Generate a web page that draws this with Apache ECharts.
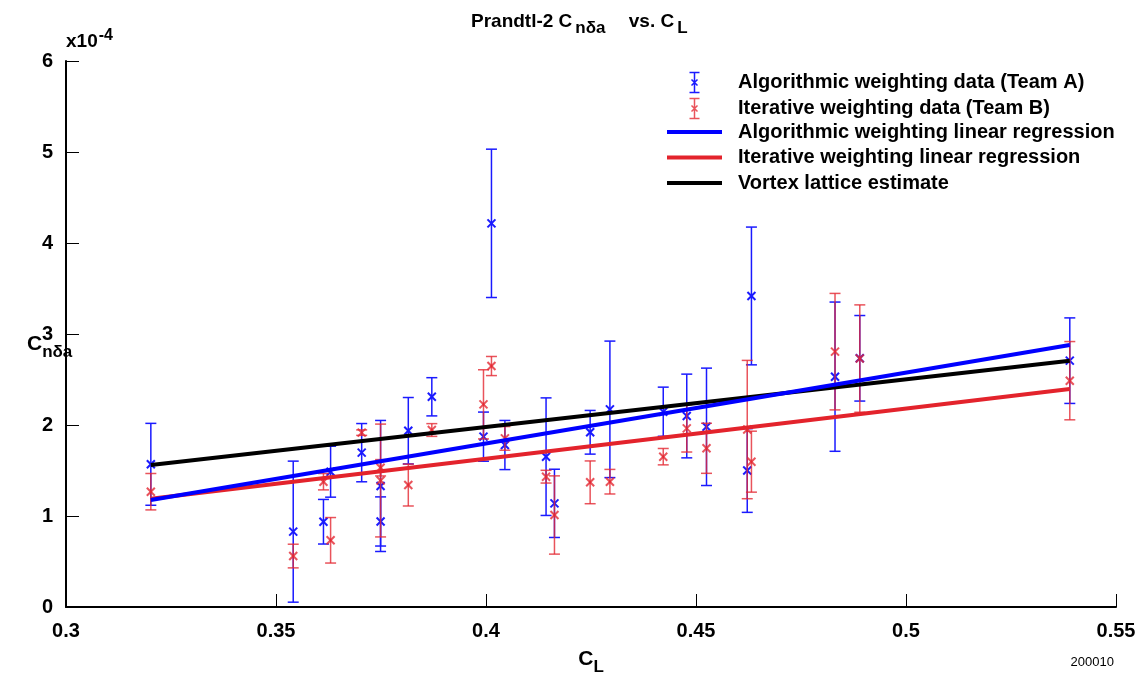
<!DOCTYPE html>
<html>
<head>
<meta charset="utf-8">
<script src="https://cdn.jsdelivr.net/npm/echarts@6/dist/echarts.min.js"></script>
<style>
  html, body { margin: 0; padding: 0; background: #fff; }
  #chart { width: 1146px; height: 674px; }
</style>
</head>
<body>
<div id="chart"></div>
<script>
// ---- Data (C_n_delta_a values in units of 1e-4) ----
const xTickLabels = ['0.3', '0.35', '0.4', '0.45', '0.5', '0.55'];
const yTickLabels = ['0', '1', '2', '3', '4', '5', '6'];

// Team A: algorithmic weighting data
const teamA_CL  = [0.3202, 0.3541, 0.3613, 0.3630, 0.3704, 0.3749, 0.3749, 0.3815, 0.3871, 0.3994, 0.4013, 0.4045,
                   0.4143, 0.4163, 0.4248, 0.4295, 0.4422, 0.4478, 0.4525, 0.4622, 0.4632, 0.4831, 0.4890, 0.5390];
const teamA_Cn  = [1.568, 0.828, 0.937, 1.487, 1.696, 1.33, 0.94, 1.937, 2.31, 1.872, 4.216, 1.78,
                   1.652, 1.139, 1.92, 2.172, 2.146, 2.099, 1.98, 1.50, 3.418, 2.531, 2.733, 2.707];
const teamA_err = [0.45, 0.775, 0.245, 0.28, 0.32, 0.72, 0.27, 0.365, 0.21, 0.27, 0.815, 0.27,
                   0.646, 0.375, 0.24, 0.75, 0.27, 0.46, 0.645, 0.46, 0.757, 0.82, 0.47, 0.47];

// Team B: iterative weighting data
const teamB_CL  = [0.3202, 0.3541, 0.3613, 0.3630, 0.3704, 0.3749, 0.3749, 0.3815, 0.3871, 0.3994, 0.4013, 0.4045,
                   0.4143, 0.4163, 0.4248, 0.4295, 0.4422, 0.4478, 0.4525, 0.4622, 0.4632, 0.4831, 0.4890, 0.5390];
const teamB_Cn  = [1.267, 0.56, 1.377, 0.733, 1.916, 1.39, 1.53, 1.34, 1.945, 2.227, 2.648, 1.853,
                   1.432, 1.011, 1.37, 1.377, 1.652, 1.963, 1.744, 1.95, 1.597, 2.806, 2.73, 2.487];
const teamB_err = [0.20, 0.13, 0.09, 0.25, 0.03, 0.62, 0.09, 0.23, 0.07, 0.38, 0.105, 0.13,
                   0.07, 0.43, 0.235, 0.135, 0.09, 0.26, 0.275, 0.76, 0.335, 0.64, 0.59, 0.43];

// Lines (endpoints)
const lineCL      = [0.3202, 0.539];
const algRegCn    = [1.176, 2.879];
const iterRegCn   = [1.19, 2.396];
const vortexCn    = [1.56, 2.707];

const names = [
  'Algorithmic weighting data (Team A)',
  'Iterative weighting data (Team B)',
  'Algorithmic weighting linear regression',
  'Iterative weighting linear regression',
  'Vortex lattice estimate'
];

const BLUE = '#0000ff';
const BLUE_BAR = '#1a1aff';
const RED = '#e3232c';
const RED_BAR = 'rgba(228,40,50,0.8)';
const FONT = '"Liberation Sans", Arial, Helvetica, sans-serif';

function rows(xs, ys, es) { return xs.map((x, i) => [x, ys[i], es[i]]); }
function pts(xs, ys) { return xs.map((x, i) => [x, ys[i]]); }

function errRenderer(color) {
  return function (params, api) {
    const x = api.value(0), y = api.value(1), e = api.value(2);
    const top = api.coord([x, y + e]);
    const bot = api.coord([x, y - e]);
    const c = api.coord([x, y]);
    const hw = 5.5, m = 4;
    const st = { stroke: color, lineWidth: 1.5, fill: null };
    const sx = { stroke: color, lineWidth: 2, fill: null };
    return {
      type: 'group',
      children: [
        { type: 'line', shape: { x1: top[0], y1: top[1], x2: bot[0], y2: bot[1] }, style: st },
        { type: 'line', shape: { x1: top[0] - hw, y1: top[1], x2: top[0] + hw, y2: top[1] }, style: st },
        { type: 'line', shape: { x1: bot[0] - hw, y1: bot[1], x2: bot[0] + hw, y2: bot[1] }, style: st },
        { type: 'line', shape: { x1: c[0] - m, y1: c[1] - m, x2: c[0] + m, y2: c[1] + m }, style: sx },
        { type: 'line', shape: { x1: c[0] - m, y1: c[1] + m, x2: c[0] + m, y2: c[1] - m }, style: sx }
      ]
    };
  };
}

const errIcon = 'path://M0,0H10M5,0V20M0,20H10M2,7L8,13M8,7L2,13';
const lineIcon = 'path://M0,0H55V4H0Z';

const legendText = {
  fontSize: 20, fontWeight: 'bold', color: '#000', fontFamily: FONT, lineHeight: 20,
  rich: { g: { width: 11, lineHeight: 20 } }
};

const chart = echarts.init(document.getElementById('chart'), null, { renderer: 'canvas' });
chart.setOption({
  animation: false,
  backgroundColor: '#ffffff',
  textStyle: { fontFamily: FONT },
  title: {
    text: '{b|Prandtl-2 C}{s|nδa}{b| vs. C}{s|L}',
    left: 466,
    top: 7,
    textStyle: {
      rich: {
        b: { fontSize: 19, fontWeight: 'bold', color: '#000', fontFamily: FONT, padding: [0, 0, 7, 0] },
        s: { fontSize: 17, fontWeight: 'bold', color: '#000', fontFamily: FONT, padding: [7, 18, 0, 3] }
      }
    }
  },
  grid: { left: 66, right: 30, top: 61, bottom: 67, containLabel: false, outerBoundsMode: 'none' },
  legend: [
    {
      orient: 'vertical',
      left: 687,
      top: 70,
      padding: 0,
      itemWidth: 55,
      itemHeight: 20,
      itemGap: 1,
      formatter: (n) => '{g|}' + n,
      textStyle: legendText,
      data: [
        { name: names[0], icon: errIcon, itemStyle: { color: 'none', borderColor: BLUE_BAR, borderWidth: 1.5 } },
        { name: names[1], icon: errIcon, itemStyle: { color: 'none', borderColor: RED_BAR, borderWidth: 1.5 } }
      ]
    },
    {
      orient: 'vertical',
      left: 667,
      top: 122,
      padding: 0,
      itemWidth: 55,
      itemHeight: 20,
      itemGap: 5.5,
      formatter: (n) => '{g|}' + n,
      textStyle: legendText,
      data: [
        { name: names[2], icon: lineIcon, itemStyle: { color: BLUE, borderWidth: 0 } },
        { name: names[3], icon: lineIcon, itemStyle: { color: RED, borderWidth: 0 } },
        { name: names[4], icon: lineIcon, itemStyle: { color: '#000', borderWidth: 0 } }
      ]
    }
  ],
  xAxis: {
    type: 'value',
    min: 0.3, max: 0.55, interval: 0.05,
    name: '{c|C}{s|L}',
    nameLocation: 'middle',
    nameGap: 42,
    nameTextStyle: {
      rich: {
        c: { fontSize: 21, fontWeight: 'bold', color: '#000', fontFamily: FONT, padding: [0, 0, 8, 0] },
        s: { fontSize: 17, fontWeight: 'bold', color: '#000', fontFamily: FONT, padding: [8, 0, 0, 0] }
      }
    },
    splitLine: { show: false },
    axisLine: { show: true, onZero: false, lineStyle: { color: '#000', width: 2 } },
    axisTick: { show: true, inside: true, length: 13, lineStyle: { color: '#000', width: 1 } },
    axisLabel: {
      margin: 14, fontSize: 20, fontWeight: 'bold', color: '#000', fontFamily: FONT,
      formatter: (v) => xTickLabels[Math.round((v - 0.3) / 0.05)]
    }
  },
  yAxis: {
    type: 'value',
    min: 0, max: 6, interval: 1,
    splitLine: { show: false },
    axisLine: { show: true, onZero: false, lineStyle: { color: '#000', width: 2 } },
    axisTick: { show: true, inside: true, length: 13, lineStyle: { color: '#000', width: 1 } },
    axisLabel: {
      margin: 13, fontSize: 20, fontWeight: 'bold', color: '#000', fontFamily: FONT,
      formatter: (v) => yTickLabels[Math.round(v)]
    }
  },
  graphic: [
    {
      type: 'text', left: 66, top: 28,
      style: {
        text: '{b|x10}{s|-4}',
        rich: {
          b: { fontSize: 19, fontWeight: 'bold', fill: '#000', fontFamily: FONT, padding: [6, 0, 0, 0] },
          s: { fontSize: 16, fontWeight: 'bold', fill: '#000', fontFamily: FONT, padding: [0, 0, 6, 1] }
        }
      }
    },
    {
      type: 'text', left: 27, top: 334,
      style: {
        text: '{c|C}{s|nδa}',
        rich: {
          c: { fontSize: 21, fontWeight: 'bold', fill: '#000', fontFamily: FONT, padding: [0, 0, 8, 0] },
          s: { fontSize: 17, fontWeight: 'bold', fill: '#000', fontFamily: FONT, padding: [8, 0, 0, 0] }
        }
      }
    },
    {
      type: 'text', right: 32, top: 656,
      style: { text: '200010', fontSize: 13, fill: '#000', fontFamily: FONT }
    }
  ],
  series: [
    {
      name: names[0], type: 'custom', renderItem: errRenderer(BLUE_BAR),
      itemStyle: { color: BLUE_BAR },
      encode: { x: 0, y: 1 },
      data: rows(teamA_CL, teamA_Cn, teamA_err), z: 2
    },
    {
      name: names[1], type: 'custom', renderItem: errRenderer(RED_BAR),
      itemStyle: { color: RED_BAR },
      encode: { x: 0, y: 1 },
      data: rows(teamB_CL, teamB_Cn, teamB_err), z: 3
    },
    {
      name: names[2], type: 'line', showSymbol: false, symbol: 'none',
      lineStyle: { color: BLUE, width: 4 }, itemStyle: { color: BLUE },
      data: pts(lineCL, algRegCn), z: 5
    },
    {
      name: names[3], type: 'line', showSymbol: false, symbol: 'none',
      lineStyle: { color: RED, width: 4 }, itemStyle: { color: RED },
      data: pts(lineCL, iterRegCn), z: 4
    },
    {
      name: names[4], type: 'line', showSymbol: false, symbol: 'none',
      lineStyle: { color: '#000', width: 4 }, itemStyle: { color: '#000' },
      data: pts(lineCL, vortexCn), z: 4
    }
  ]
});
</script>
</body>
</html>
